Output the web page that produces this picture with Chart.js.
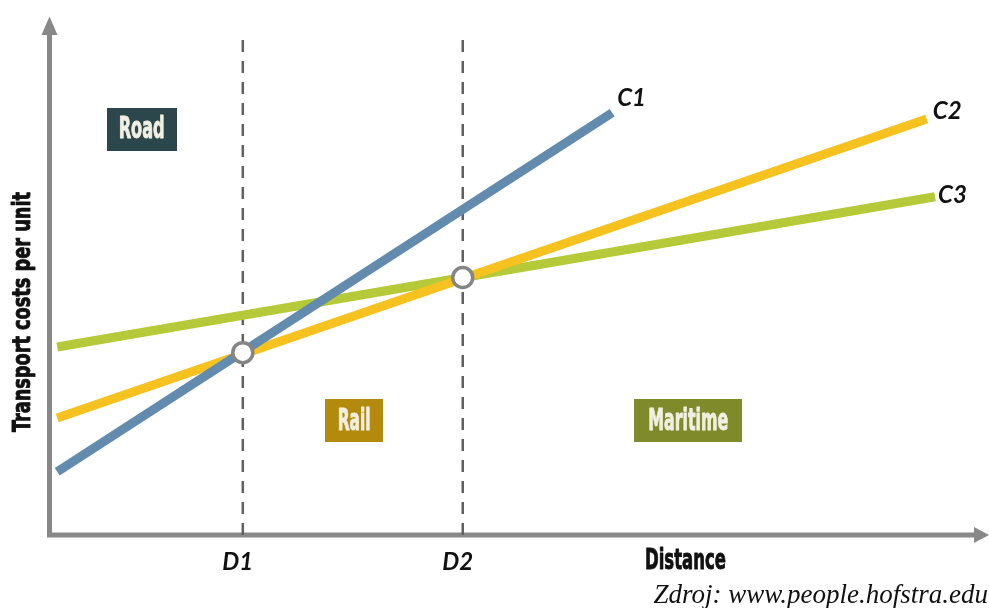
<!DOCTYPE html>
<html>
<head>
<meta charset="utf-8">
<script src="https://cdn.jsdelivr.net/npm/chart.js@4/dist/chart.umd.min.js"></script>
<style>
  html, body { margin: 0; padding: 0; background: #ffffff; }
  #wrap { width: 989px; height: 608px; position: relative; }
</style>
</head>
<body>
<div id="wrap"><canvas id="chart" width="989" height="608"></canvas></div>
<script>
// Cost curves per transport mode (distance on x, cost per unit on y, 0-100 scale)
const curveNames = ['C1', 'C2', 'C3'];
const roadCost     = [{ x: 1.1, y: 12.2 }, { x: 60.9, y: 81.5 }];
const railCost     = [{ x: 1.1, y: 22.6 }, { x: 94.8, y: 80.3 }];
const maritimeCost = [{ x: 1.1, y: 36.3 }, { x: 95.7, y: 65.3 }];

// Break-even distances and the cost where the curves cross
const breakLabels    = ['D1', 'D2'];
const breakDistances = [21.1, 44.8];
const breakCosts     = [35.2, 49.7];

// Zone labels
const zoneNames = ['Road', 'Rail', 'Maritime'];

const axisTitleX = 'Distance';
const axisTitleY = 'Transport costs per unit';
const sourceNote = 'Zdroj: www.people.hofstra.edu';

const COLORS = {
  road: '#628bad',
  rail: '#f6c21f',
  maritime: '#b6c938',
  axis: '#888888',
  dash: '#606060'
};

// Placement of the zone boxes (data coordinates) and their box sizes in px
const zoneLayout = [
  { x: 10.2, y: 78.3, w: 70, h: 43, bg: '#2b474c', textW: 46 },
  { x: 33.1, y: 22.1, w: 58, h: 43, bg: '#b38a0b', textW: 33 },
  { x: 69.1, y: 22.1, w: 108, h: 43, bg: '#7f8a2b', textW: 80 }
];
// Offsets of curve-end labels from the last point of each curve
const endLabelOffsets = [[5, -7], [6, 0], [3, 6]];

const CONDENSED = '"Liberation Sans Narrow", "DejaVu Sans Condensed", "Liberation Sans", sans-serif';

// Draws heavy condensed text squeezed horizontally to a given width
function condensedText(ctx, text, cx, baseline, size, width, color) {
  ctx.save();
  ctx.font = 'bold ' + size + 'px ' + CONDENSED;
  const natural = ctx.measureText(text).width;
  const k = width / natural;
  ctx.translate(cx, baseline);
  ctx.scale(k, 1);
  ctx.fillStyle = color;
  ctx.strokeStyle = color;
  ctx.lineWidth = 0.9;
  ctx.lineJoin = 'round';
  ctx.textAlign = 'center';
  ctx.textBaseline = 'alphabetic';
  ctx.fillText(text, 0, 0);
  ctx.strokeText(text, 0, 0);
  ctx.restore();
}

// Axes drawn as thick grey lines with arrowheads
const axesPlugin = {
  id: 'arrowAxes',
  beforeDatasetsDraw(chart) {
    const { ctx, chartArea } = chart;
    const left = chartArea.left, bottom = chartArea.bottom;
    ctx.save();
    ctx.strokeStyle = COLORS.axis;
    ctx.fillStyle = COLORS.axis;
    ctx.lineWidth = 5;
    ctx.lineCap = 'butt';
    ctx.lineJoin = 'miter';
    ctx.beginPath();
    ctx.moveTo(left + 2.5, 34);
    ctx.lineTo(left + 2.5, bottom);
    ctx.lineTo(976, bottom);
    ctx.stroke();
    // up arrow
    ctx.beginPath();
    ctx.moveTo(left + 2.5, 16.5);
    ctx.lineTo(left + 2.5 - 8, 35);
    ctx.lineTo(left + 2.5 + 8, 35);
    ctx.closePath();
    ctx.fill();
    // right arrow
    ctx.beginPath();
    ctx.moveTo(989, bottom);
    ctx.lineTo(974, bottom - 8);
    ctx.lineTo(974, bottom + 8);
    ctx.closePath();
    ctx.fill();
    ctx.restore();
  }
};

// Text: zone boxes, curve names, distance marks, axis titles, source
const labelsPlugin = {
  id: 'diagramLabels',
  afterDatasetsDraw(chart) {
    const { ctx, scales } = chart;
    const xs = scales.x, ys = scales.y;
    ctx.save();

    zoneNames.forEach((name, i) => {
      const z = zoneLayout[i];
      const cx = xs.getPixelForValue(z.x);
      const cy = ys.getPixelForValue(z.y);
      ctx.fillStyle = z.bg;
      ctx.fillRect(Math.round(cx - z.w / 2), Math.round(cy - z.h / 2), z.w, z.h);
      condensedText(ctx, name, cx, cy + 9, 30, z.textW, '#f1efe1');
    });

    // curve names at the end of each curve
    const curves = [roadCost, railCost, maritimeCost];
    ctx.font = 'italic bold 24px Lato, "Open Sans", "Liberation Sans", sans-serif';
    ctx.fillStyle = '#111111';
    ctx.textAlign = 'left';
    ctx.textBaseline = 'alphabetic';
    curveNames.forEach((name, i) => {
      const last = curves[i][curves[i].length - 1];
      const px = xs.getPixelForValue(last.x) + endLabelOffsets[i][0];
      const py = ys.getPixelForValue(last.y) + endLabelOffsets[i][1];
      ctx.fillText(name, px, py);
    });

    // distance marks below the x axis
    ctx.textAlign = 'center';
    breakLabels.forEach((lab, i) => {
      ctx.fillText(lab, xs.getPixelForValue(breakDistances[i]) - 5, 570);
    });

    // axis titles
    condensedText(ctx, axisTitleX, 685.5, 569, 29, 81, '#111111');
    ctx.save();
    ctx.translate(30, 312);
    ctx.rotate(-Math.PI / 2);
    condensedText(ctx, axisTitleY, 0, 0, 25, 240, '#111111');
    ctx.restore();

    // source note
    ctx.font = 'italic 27px "Liberation Serif", "Times New Roman", serif';
    ctx.fillStyle = '#111111';
    ctx.textAlign = 'right';
    ctx.fillText(sourceNote, 988, 603);

    ctx.restore();
  }
};

const dashTop = 96.5;
const dashSets = breakDistances.map((d) => ({
  data: [{ x: d, y: 0 }, { x: d, y: dashTop }],
  showLine: true,
  borderColor: COLORS.dash,
  borderWidth: 2.5,
  borderDash: [12, 9],
  pointRadius: 0,
  order: 5
}));

const curveSet = (data, color) => ({
  data,
  showLine: true,
  borderColor: color,
  borderWidth: 9,
  borderCapStyle: 'butt',
  pointRadius: 0,
  fill: false,
  order: 3
});

new Chart(document.getElementById('chart'), {
  type: 'scatter',
  data: {
    datasets: [
      ...dashSets,
      curveSet(roadCost, COLORS.road),
      curveSet(railCost, COLORS.rail),
      curveSet(maritimeCost, COLORS.maritime),
      {
        data: breakDistances.map((d, i) => ({ x: d, y: breakCosts[i] })),
        showLine: false,
        pointRadius: 10,
        pointBorderWidth: 3.5,
        pointBackgroundColor: '#ffffff',
        pointBorderColor: '#858585',
        order: 1
      }
    ]
  },
  options: {
    responsive: false,
    animation: false,
    events: [],
    layout: { padding: { left: 47, right: 14, top: 17, bottom: 73 } },
    plugins: { legend: { display: false }, tooltip: { enabled: false } },
    scales: {
      x: { type: 'linear', min: 0, max: 100, display: false },
      y: { type: 'linear', min: 0, max: 100, display: false }
    }
  },
  plugins: [axesPlugin, labelsPlugin]
});
</script>
</body>
</html>
